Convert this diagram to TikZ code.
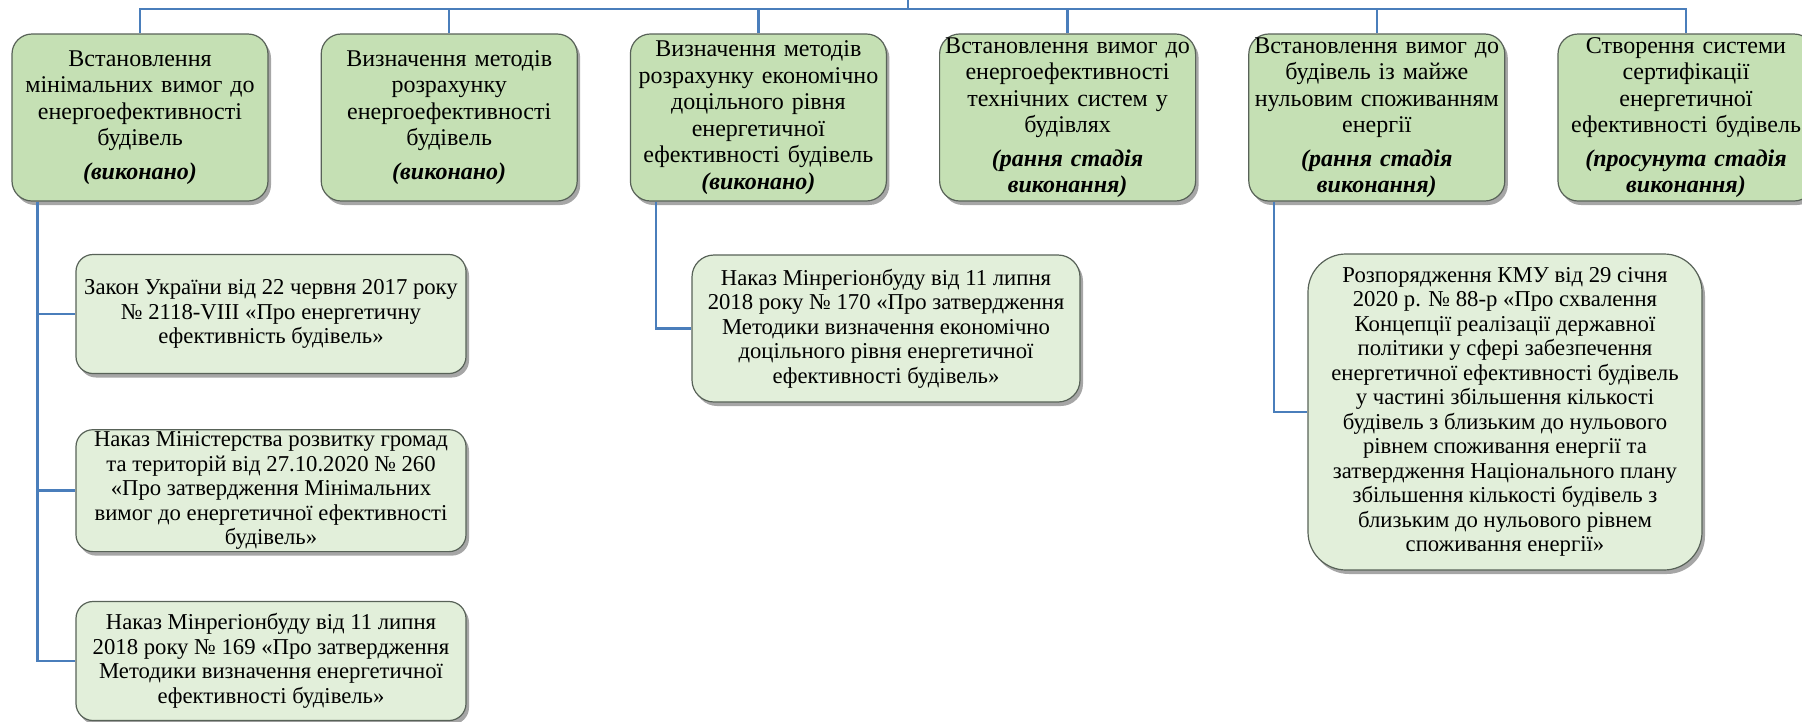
\documentclass[tikz,border=0pt]{standalone}
\usepackage{fontspec}
\setmainfont{Liberation Serif}
\usetikzlibrary{positioning, calc, shadows}

\definecolor{boxgreen}{RGB}{197,224,180}
\definecolor{docgreen}{RGB}{226,239,218}
\definecolor{boxline}{RGB}{88,98,88}
\definecolor{linkblue}{RGB}{74,126,187}
\newcommand{\stage}[1]{\textbf{\textit{#1}}}

\begin{document}
\begin{tikzpicture}[x=1pt, y=-1pt,
		link/.style={draw=linkblue, line width=2.4pt},
		node distance=52pt
	]
	\tikzstyle{Node} = [ %common look of all boxes
		text centered,
		align=center,
		draw=boxline,
		line width=1.2pt,
		inner xsep=0pt,
		inner ysep=2pt,
		drop shadow={shadow xshift=3pt, shadow yshift=-4pt, opacity=0.35, fill=black}
	]
	\tikzstyle{TopNode} = [
		Node,
		fill=boxgreen,
		rounded corners=20pt,
		text width=252pt,
		minimum width=256pt,
		minimum height=167pt,
		font=\fontsize{24}{26.5}\selectfont
	]
	\tikzstyle{DocNode} = [
		Node,
		fill=docgreen,
		rounded corners=17pt,
		minimum width=390pt,
		minimum height=119pt,
		font=\fontsize{22.7}{24.5}\selectfont
	]
	\useasboundingbox (0,0) rectangle (1802,721);

	% top row
	\node (m1) [TopNode] at (140,117.5) {Встановлення\\мінімальних вимог до\\енергоефективності\\будівель\\[7pt]\stage{(виконано)}};
	\node (m2) [TopNode, right=of m1] {Визначення методів\\розрахунку\\енергоефективності\\будівель\\[7pt]\stage{(виконано)}};
	\node (m3) [TopNode, right=of m2] {Визначення методів\\розрахунку економічно\\доцільного рівня\\енергетичної\\ефективності будівель\\\stage{(виконано)}};
	\node (m4) [TopNode, right=of m3] {Встановлення вимог до\\енергоефективності\\технічних систем у\\будівлях\\[7pt]\stage{(рання стадія}\\\stage{виконання)}};
	\node (m5) [TopNode, right=of m4] {Встановлення вимог до\\будівель із майже\\нульовим споживанням\\енергії\\[7pt]\stage{(рання стадія}\\\stage{виконання)}};
	\node (m6) [TopNode, right=of m5] {Створення системи\\сертифікації\\енергетичної\\ефективності будівель\\[7pt]\stage{(просунута стадія}\\\stage{виконання)}};

	% bus
	\coordinate (root) at (908,0);
	\coordinate (bus) at (908,9);
	\draw[link] (root) -- (bus);
	\draw[link] (m1.north) |- (bus) -| (m6.north);
	\foreach \i in {2,...,5}
		\draw[link] (m\i.north) -- (m\i.north |- bus);

	% documents
	\node (d11) [DocNode] at (271,314) {Закон України від 22 червня 2017 року\\№ 2118-VIII «Про енергетичну\\ефективність будівель»};
	\node (d12) [DocNode, below=55pt of d11] {Наказ Міністерства розвитку громад\\та територій від 27.10.2020 № 260\\«Про затвердження Мінімальних\\вимог до енергетичної ефективності\\будівель»};
	\node (d13) [DocNode] at (271,661) {Наказ Мінрегіонбуду від 11 липня\\2018 року № 169 «Про затвердження\\Методики визначення енергетичної\\ефективності будівель»};
	\node (d31) [DocNode, minimum width=388pt, minimum height=147pt, rounded corners=22pt] at (886,328.5) {Наказ Мінрегіонбуду від 11 липня\\2018 року № 170 «Про затвердження\\Методики визначення економічно\\доцільного рівня енергетичної\\ефективності будівель»};
	\node (d51) [DocNode, minimum width=394pt, minimum height=316pt, rounded corners=38pt] at (1505,412) {Розпорядження КМУ від 29 січня\\2020 р. № 88-р «Про схвалення\\Концепції реалізації державної\\політики у сфері забезпечення\\енергетичної ефективності будівель\\у частині збільшення кількості\\будівель з близьким до нульового\\рівнем споживання енергії та\\затвердження Національного плану\\збільшення кількості будівель з\\близьким до нульового рівнем\\споживання енергії»};

	% branches
	\coordinate (c1) at ($(m1.south west)+(26,0)$);
	\coordinate (c3) at ($(m3.south west)+(26,0)$);
	\coordinate (c5) at ($(m5.south west)+(26,0)$);
	\draw[link] (c1) |- (d11.west);
	\draw[link] (c1) |- (d12.west);
	\draw[link] (c1) |- (d13.west);
	\draw[link] (c3) |- (d31.west);
	\draw[link] (c5) |- (d51.west);
\end{tikzpicture}
\end{document}
